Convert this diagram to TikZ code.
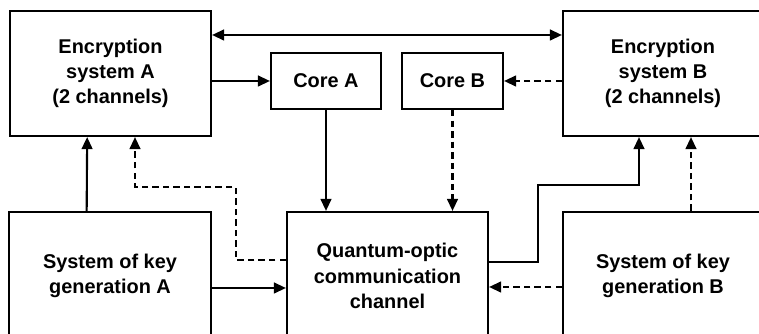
\documentclass[tikz,border=0pt]{standalone}
\usepackage{fontspec}
\setmainfont{Liberation Sans}
\usetikzlibrary{arrows.meta, positioning, calc}

\begin{document}
\begin{tikzpicture}[
            box/.style={draw, line width=1.8pt, font=\fontsize{17}{21.5}\selectfont\bfseries, align=center, inner sep=0pt},
            tip/.style={Triangle[length=0.36cm, width=0.32cm]},
            arrow/.style={-{Triangle[length=0.36cm, width=0.32cm]}, line width=1.8pt},
            dasharrow/.style={arrow, dash pattern=on 5.5pt off 3.5pt}
        ]
        \useasboundingbox (0,0) rectangle (22.77,10.02);

        % --- top row ---
        \node[box, minimum width=6.03cm, minimum height=3.75cm] (encA) at (3.315, 7.815) {Encryption\\system A\\(2 channels)};
        \node[box, minimum width=6.0cm, minimum height=3.75cm] (encB) at (19.89, 7.815) {Encryption\\system B\\(2 channels)};
        \node[box, minimum width=3.3cm, minimum height=1.68cm] (coreA) at (9.78, 7.59) {Core A};
        \node[box, minimum width=3.03cm, minimum height=1.68cm] (coreB) at (13.575, 7.59) {Core B};

        % --- bottom row ---
        \node[box, minimum width=6.06cm, minimum height=3.84cm] (keyA) at (3.3, 1.74) {System of key\\generation A};
        \node[box, minimum width=6.03cm, minimum height=3.84cm] (qoc) at (11.625, 1.74) {Quantum-optic\\communication\\channel};
        \node[box, minimum width=6.0cm, minimum height=3.84cm] (keyB) at (19.89, 1.74) {System of key\\generation B};

        % --- bends ---
        \coordinate (bendA) at (7.08, 4.41);
        \coordinate (bendB) at (16.14, 4.47);

        % --- connectors ---
        \draw[arrow, {Triangle[length=0.36cm, width=0.32cm]}-{Triangle[length=0.36cm, width=0.32cm]}] ([yshift=1.155cm]encA.east) -- ([yshift=1.155cm]encB.west);
        \draw[arrow] (encA.east |- coreA) -- (coreA.west);
        \draw[dasharrow] (encB.west |- coreB) -- (coreB.east);
        \draw[arrow] (coreA.south) -- (coreA.south |- qoc.north);
        \draw[dasharrow] (coreB.south) -- (coreB.south |- qoc.north);
        \draw[arrow] ([xshift=-0.7cm]keyA.north) -- ([xshift=-0.7cm]encA.south);
        \draw[dasharrow] ([yshift=0.48cm]qoc.west) -| (bendA) -| ([xshift=0.735cm]encA.south);
        \draw[arrow] ([yshift=-0.36cm]keyA.east) -- ([yshift=-0.36cm]qoc.west);
        \draw[arrow] ([yshift=0.42cm]qoc.east) -| (bendB) -| ([xshift=-0.72cm]encB.south);
        \draw[dasharrow] ([xshift=0.84cm]keyB.north) -- ([xshift=0.84cm]encB.south);
        \draw[dasharrow] ([yshift=-0.33cm]keyB.west) -- ([yshift=-0.33cm]qoc.east);

        \end{tikzpicture}
\end{document}
